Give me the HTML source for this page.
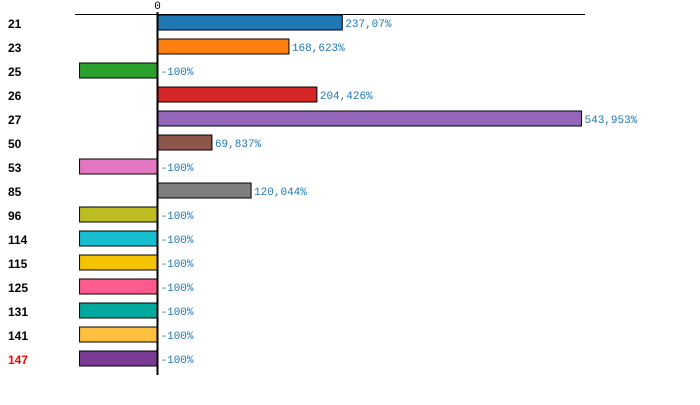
<!DOCTYPE html>
<html><head><meta charset="utf-8"><style>
body{margin:0;background:#fff;width:700px;height:405px;overflow:hidden}
svg{display:block}
.cat{font:bold 12px "Liberation Sans",sans-serif}
.val{font:11px "Liberation Mono",monospace;fill:#1f77b4}
</style></head><body>
<svg id="chart" width="700" height="405" xmlns="http://www.w3.org/2000/svg"></svg>
<script>
const categories=["21","23","25","26","27","50","53","85","96","114","115","125","131","141","147"];
const values=[237.07,168.623,-100,204.426,543.953,69.837,-100,120.044,-100,-100,-100,-100,-100,-100,-100];
const valueLabels=["237,07%","168,623%","-100%","204,426%","543,953%","69,837%","-100%","120,044%","-100%","-100%","-100%","-100%","-100%","-100%","-100%"];
const colors=["#1f77b4","#ff7f0e","#2ca02c","#d62728","#9467bd","#8c564b","#e377c2","#7f7f7f","#bcbd22","#17becf","#f5c400","#ff5c8d","#00a99d","#ffc03f","#7b3c96"];
const svg=document.getElementById('chart');
const NS='http://www.w3.org/2000/svg';
const x0=157.5,k=0.7795;
function xs(v){return x0+v*k;}
function ys(i){return 15+i*24;}
function mk(t,a){const e=document.createElementNS(NS,t);for(const n in a)e.setAttribute(n,a[n]);svg.appendChild(e);return e;}
let l=mk('line',{x1:75,y1:14.5,x2:585,y2:14.5,stroke:'#000','stroke-width':1});


categories.forEach((c,i)=>{
  const v=values[i];const a=xs(0),b=xs(v);
  const r=mk('rect',{x:Math.min(a,b),y:ys(i),width:Math.abs(b-a),height:15,fill:colors[i],stroke:'#000','stroke-width':1});
  
  
  const t=mk('text',{x:8,y:ys(i)+13,class:'cat',fill:i===categories.length-1?'#f00':'#000'});
  t.textContent=c;
  
  
  const vx=(v>0?b:a)+3;
  const vl=mk('text',{x:vx,y:ys(i)+12,class:'val'});
  vl.textContent=valueLabels[i];
  
  
});
const ax=mk('line',{x1:x0,y1:12,x2:x0,y2:375,stroke:'#000','stroke-width':2});


const z=mk('text',{x:x0,y:9,'text-anchor':'middle',class:'val',style:'fill:#000'});
z.textContent='0';


</script>
</body></html>
